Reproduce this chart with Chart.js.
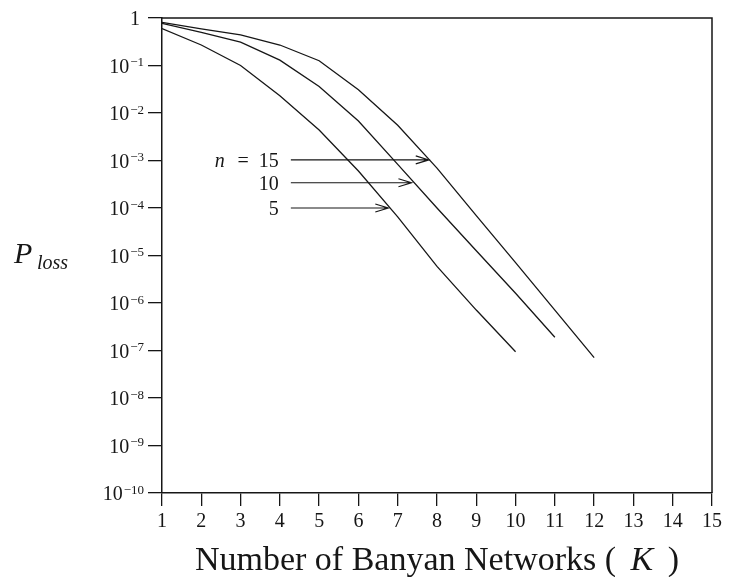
<!DOCTYPE html>
<html><head><meta charset="utf-8">
<script src="https://cdn.jsdelivr.net/npm/chart.js@4"></script>
<style>html,body{margin:0;padding:0;background:#fff}</style>
</head><body>
<canvas id="c" width="736" height="577"></canvas>
<script>
// ---- data ----
const kValues = [1, 2, 3, 4, 5, 6, 7, 8, 9, 10, 11, 12];
const plossN5  = [0.6, 0.27, 0.10, 0.023, 4.4e-3, 6.0e-4, 6.5e-5, 5.9e-6, 7.1e-7, 9.4e-8];
const plossN10 = [0.77, 0.50, 0.31, 0.13, 0.036, 6.8e-3, 8.3e-4, 1.0e-4, 1.26e-5, 1.6e-6, 1.9e-7];
const plossN15 = [0.81, 0.59, 0.44, 0.27, 0.126, 0.031, 5.5e-3, 6.9e-4, 6.9e-5, 7.1e-6, 7.1e-7, 7.1e-8];
const seriesNames = ['15', '10', '5'];
const xTickValues = [1, 2, 3, 4, 5, 6, 7, 8, 9, 10, 11, 12, 13, 14, 15];
const yTickExponents = [0, -1, -2, -3, -4, -5, -6, -7, -8, -9, -10];
const xTitle = ['Number of Banyan Networks ( ', 'K', ' )'];
const yTitle = ['P', 'loss'];

// annotation arrows, in data units (K, Ploss)
const arrowTipK = [7.79, 7.35, 6.76];
const arrowTipP = [1.03e-3, 3.4e-4, 1.0e-4];
const arrowStartK = 4.28;
const labelRightK = 3.97;

const INK = '#161616';
const SERIF = '"Liberation Serif", "DejaVu Serif", serif';

function pts(vals) { return vals.map((v, i) => ({ x: kValues[i], y: v })); }

const decor = {
  id: 'decor',
  afterDraw(chart) {
    const ctx = chart.ctx, a = chart.chartArea;
    const xs = chart.scales.x, ys = chart.scales.y;
    ctx.save();
    // top and right frame
    ctx.strokeStyle = INK; ctx.lineWidth = 1.5;
    ctx.beginPath();
    ctx.moveTo(a.left, a.top); ctx.lineTo(a.right, a.top); ctx.lineTo(a.right, a.bottom);
    ctx.stroke();
    ctx.fillStyle = INK;
    // y tick labels 10^n
    ys.ticks.forEach(t => {
      const y = ys.getPixelForValue(t.value);
      const e = Math.round(Math.log10(t.value));
      const R = 144;
      if (e === 0) {
        ctx.font = '20px ' + SERIF; ctx.textAlign = 'right'; ctx.textBaseline = 'alphabetic';
        ctx.fillText('1', 140, y + 7);
      } else {
        const sup = '\u2212' + Math.abs(e);
        ctx.font = '13px ' + SERIF;
        const ws = ctx.measureText(sup).width;
        ctx.textAlign = 'left'; ctx.textBaseline = 'alphabetic';
        ctx.fillText(sup, R - ws, y + 0.5);
        ctx.font = '20px ' + SERIF; ctx.textAlign = 'right';
        ctx.fillText('10', R - ws - 1, y + 7);
      }
    });
    // y title P_loss
    ctx.textAlign = 'left'; ctx.textBaseline = 'alphabetic';
    ctx.font = 'italic 30px ' + SERIF;
    ctx.fillText(yTitle[0], 14, 263);
    ctx.font = 'italic 20px ' + SERIF;
    ctx.fillText(yTitle[1], 37, 269);
    // x title
    ctx.font = '34px ' + SERIF;
    const w0 = ctx.measureText(xTitle[0]).width, w2 = ctx.measureText(xTitle[2]).width;
    ctx.font = 'italic 34px ' + SERIF;
    const w1 = ctx.measureText(xTitle[1]).width;
    const gap = 6;
    const total = w0 + w1 + w2 + 2 * gap;
    let x0 = (a.left + a.right) / 2 - total / 2;
    const by = 570;
    ctx.font = '34px ' + SERIF; ctx.fillText(xTitle[0], x0, by);
    ctx.font = 'italic 34px ' + SERIF; ctx.fillText(xTitle[1], x0 + w0 + gap, by);
    ctx.font = '34px ' + SERIF; ctx.fillText(xTitle[2], x0 + w0 + w1 + 2 * gap, by);
    // annotations
    ctx.lineWidth = 1.2; ctx.strokeStyle = INK;
    seriesNames.forEach((nm, i) => {
      const y = ys.getPixelForValue(arrowTipP[i]);
      const xt = xs.getPixelForValue(arrowTipK[i]);
      const xsP = xs.getPixelForValue(arrowStartK);
      const xl = xs.getPixelForValue(labelRightK);
      ctx.beginPath();
      ctx.moveTo(xsP, y); ctx.lineTo(xt, y);
      ctx.moveTo(xt - 13, y - 4); ctx.lineTo(xt, y); ctx.lineTo(xt - 13, y + 4);
      ctx.stroke();
      ctx.font = '20px ' + SERIF; ctx.textAlign = 'right';
      ctx.fillText(nm, xl, y + 7);
      if (i === 0) {
        ctx.fillText('=', xl - 30, y + 7);
        ctx.font = 'italic 20px ' + SERIF;
        ctx.fillText('n', xl - 54, y + 7);
      }
    });
    ctx.restore();
  }
};

const lineStyle = { borderColor: INK, borderWidth: 1.3, pointRadius: 0, fill: false, tension: 0 };

new Chart(document.getElementById('c'), {
  type: 'line',
  data: {
    datasets: [
      Object.assign({ label: 'n = 15', data: pts(plossN15) }, lineStyle),
      Object.assign({ label: 'n = 10', data: pts(plossN10) }, lineStyle),
      Object.assign({ label: 'n = 5', data: pts(plossN5) }, lineStyle)
    ]
  },
  options: {
    responsive: false,
    animation: false,
    devicePixelRatio: 1,
    layout: { padding: { left: 0, right: 24, top: 18, bottom: 0 } },
    plugins: { legend: { display: false }, tooltip: { enabled: false } },
    scales: {
      x: {
        type: 'linear', min: 1, max: 15,
        afterBuildTicks: s => { s.ticks = xTickValues.map(v => ({ value: v })); },
        afterFit: s => { s.height = 84; },
        ticks: { font: { family: SERIF, size: 20 }, color: INK, padding: 4, maxRotation: 0, autoSkip: false },
        grid: { drawOnChartArea: false, drawTicks: true, tickLength: 13, color: INK, lineWidth: 1.3 },
        border: { display: true, color: INK, width: 1.5 }
      },
      y: {
        type: 'logarithmic', min: 1e-10, max: 1,
        afterBuildTicks: s => { s.ticks = yTickExponents.map(e => ({ value: Math.pow(10, e) })); },
        afterFit: s => { s.width = 162; },
        ticks: { display: false },
        grid: { drawOnChartArea: false, drawTicks: true, tickLength: 14, color: INK, lineWidth: 1.3 },
        border: { display: true, color: INK, width: 1.5 }
      }
    }
  },
  plugins: [decor]
});
</script>
</body></html>
